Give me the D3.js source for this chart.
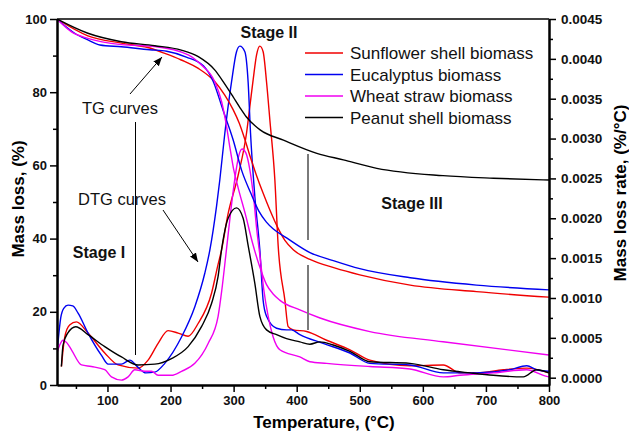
<!DOCTYPE html>
<html><head><meta charset="utf-8">
<script src="https://cdn.jsdelivr.net/npm/d3@7"></script>
<style>body{margin:0;background:#fff}svg{display:block}</style>
</head><body>
<script>
// ---- DATA ----
const seriesNames = ["Sunflower shell biomass","Eucalyptus biomass","Wheat straw biomass","Peanut shell biomass"];
const seriesColors = ["#f00000","#0000f0","#f000f0","#000000"];
const xTicks = [100,200,300,400,500,600,700,800];
const yLeftTicks = [0,20,40,60,80,100];
const yRightTicks = [0,0.0005,0.001,0.0015,0.002,0.0025,0.003,0.0035,0.004,0.0045];

// TG curves [temperature °C, mass %]
const sunflowerTG = [[20,100],[69,95.4],[122,93.4],[164,92.2],[191,90.6],[217,88.8],[244,86.5],[270,82.9],[286,79.2],[299,75.3],[309,71.5],[318,67],[327,62],[336,57.4],[347,52.3],[357.5,47.8],[370,43],[381,39.6],[395,36.9],[421,34.3],[460,32],[500,30.1],[580,27.3],[685,25.5],[800,24.0]];
const eucalyptusTG = [[20,100],[48,96.1],[69,94.3],[88,92.9],[122,92.4],[167,91.6],[194,91.2],[225,89.6],[252,87.2],[267.5,83],[283.4,75],[299.2,67],[313,58.5],[327,52.5],[340,47.5],[352,44.5],[363,42.6],[384,40.2],[421,36.2],[458,34.0],[500,31.8],[580,29.3],[685,27.3],[800,26.0]];
const wheatTG = [[20,100],[43,96.5],[69,94.7],[122,93.0],[175,92.5],[228,90.2],[249,87.4],[270,82.9],[281,77.4],[288,71.5],[294,65],[300,59],[307,54],[319,46.4],[330,38.8],[341,32.5],[352,27.5],[363,24.8],[373,23.2],[405,20.5],[437,18.3],[516,14.6],[632,11.8],[800,8.2]];
const peanutTG = [[20,100],[69,96.1],[122,93.8],[175,92.7],[217,91.5],[244,89.7],[270,86.1],[285,82.5],[299,78.8],[310,75.8],[320,73.3],[342,69.7],[379,66.9],[432,63.3],[474,61.5],[527,59.2],[632,57.2],[712,56.5],[800,56.0]];

// DTG curves [temperature °C, mass loss rate %/°C]
const sunflowerDTG = [[27,0.00014],[32.3,0.00051],[40,0.00066],[50.8,0.0007],[69.2,0.00056],[95.7,0.00031],[116.8,0.00016],[148.5,0.00012],[164.4,0.00022],[180.3,0.00043],[196.1,0.00059],[212,0.00056],[227.9,0.00052],[243.7,0.00068],[265,0.00106],[275,0.00141],[280.8,0.0016],[290.8,0.00204],[307.2,0.00254],[320.5,0.00307],[326,0.00342],[331,0.00374],[336.4,0.00405],[341.6,0.00416],[346.8,0.00409],[352.2,0.00371],[357.5,0.00323],[365.4,0.00248],[370.6,0.00166],[381.3,0.00097],[386.5,0.00064],[394.5,0.0006],[415.7,0.00058],[447.4,0.00047],[484.4,0.00035],[516,0.00022],[579.5,0.00015],[632.4,0.00016],[658.8,0.00006],[685.3,0.00006],[727.5,0.0001],[764.7,0.00012],[800,0.00006]];
const eucalyptusDTG = [[21.2,0.00041],[25.9,0.00075],[30.7,0.00087],[37.5,0.00091],[45,0.0009],[53.4,0.00081],[69.2,0.00056],[90.5,0.00028],[101,0.00017],[122.2,0.00017],[135.4,0.00022],[148.5,0.00013],[160.8,0.00006],[175,0.00007],[190.9,0.00018],[217.4,0.00051],[238.5,0.00089],[254.3,0.00131],[262.3,0.0016],[272.9,0.00215],[278.1,0.00248],[286.1,0.00307],[296.7,0.00371],[304.6,0.00409],[309.9,0.00416],[317.8,0.00409],[323,0.00371],[326.8,0.00307],[333.7,0.00227],[341.6,0.0016],[346.8,0.00097],[352.2,0.00077],[368.1,0.00062],[383.9,0.0006],[391.9,0.0006],[405,0.00054],[442,0.00043],[484.4,0.00031],[516,0.00018],[579.5,0.00016],[632.4,0.00006],[685.3,0.00006],[738.2,0.0001],[764.7,0.00015],[780.5,0.0001],[800,0.00008]];
const wheatDTG = [[20,0.00031],[24.3,0.00041],[29.6,0.00047],[35.4,0.00044],[42.9,0.00035],[58.8,0.00016],[74.6,0.00014],[95.7,0.0001],[106.3,0.00001],[122.2,-0.00003],[132.7,0.00001],[143.3,0.0001],[159.2,0.00008],[169.8,0.00008],[180.3,0.00003],[201.5,0.00003],[217.4,0.00008],[238.5,0.00018],[259.6,0.00043],[275.4,0.00077],[281.3,0.0011],[287.7,0.00154],[295.6,0.0021],[303.5,0.00258],[308.3,0.00279],[313.5,0.00287],[319.4,0.00282],[325.7,0.00261],[332.1,0.00223],[336.8,0.00185],[341.6,0.00154],[347.9,0.0011],[354.3,0.00079],[362.7,0.00051],[373.3,0.00035],[405,0.00026],[420.9,0.0002],[447.4,0.00018],[516,0.00014],[579.5,0.00011],[632.4,0.00001],[658.8,0.00003],[711.7,0.00006],[764.7,0.0001],[791,0.00003],[800,0.00001]];
const peanutDTG = [[27,0.00014],[29.6,0.00041],[37,0.00056],[49.7,0.00064],[69.2,0.00054],[95.7,0.00039],[122.2,0.00026],[148.5,0.00016],[175,0.00017],[201.5,0.00024],[227.9,0.00039],[249.1,0.00064],[265,0.00093],[275.4,0.00127],[280.8,0.0016],[291.3,0.002],[304.6,0.00213],[315.1,0.002],[323,0.00166],[333.7,0.00118],[341.6,0.00077],[352.2,0.0006],[368.1,0.00054],[383.9,0.00049],[405,0.00045],[420.9,0.00042],[436.8,0.00045],[457.9,0.00041],[484.4,0.00033],[516,0.0002],[579.5,0.00018],[632.4,0.0001],[674.7,0.00006],[711.7,0.00003],[759.3,0.00001],[780.5,0.0001],[800,0.00006]];

const tgSeries = [sunflowerTG, eucalyptusTG, wheatTG, peanutTG];
const dtgSeries = [sunflowerDTG, eucalyptusDTG, wheatDTG, peanutDTG];

// ---- CHART ----
const W = 629, H = 432;
const m = {left:57, right:549, top:19, bottom:385};
const font = "'Liberation Sans', Arial, sans-serif";
const svg = d3.select("body").append("svg").attr("width",W).attr("height",H)
  .style("font-family",font);

const x = d3.scaleLinear().domain([20,800]).range([m.left,m.right]);
const yL = d3.scaleLinear().domain([0,100]).range([m.bottom,m.top]);
const yR = d3.scaleLinear().domain([-0.0000916,0.0045]).range([m.bottom,m.top]);

svg.append("clipPath").attr("id","clip").append("rect")
  .attr("x",m.left).attr("y",m.top).attr("width",m.right-m.left).attr("height",m.bottom-m.top);

const plot = svg.append("g").attr("clip-path","url(#clip)");
const lineL = d3.line().x(d=>x(d[0])).y(d=>yL(d[1])).curve(d3.curveMonotoneX);
const lineR = d3.line().x(d=>x(d[0])).y(d=>yR(d[1])).curve(d3.curveMonotoneX);

// gray stage separator line
const gsep = svg.append("g").attr("stroke","#7a7a7a").attr("stroke-width",2);
gsep.append("line").attr("x1",308).attr("x2",308).attr("y1",154).attr("y2",240);
gsep.append("line").attr("x1",308).attr("x2",308).attr("y1",265).attr("y2",330);

// annotation lines
svg.append("defs").append("marker").attr("id","arr").attr("viewBox","0 0 10 10")
  .attr("refX",10).attr("refY",5).attr("markerWidth",9).attr("markerHeight",9)
  .attr("markerUnits","userSpaceOnUse").attr("orient","auto")
  .append("path").attr("d","M0,1 L10,5 L0,9 Z").attr("fill","#000");
svg.append("line").attr("x1",130).attr("y1",94).attr("x2",162).attr("y2",57)
  .attr("stroke","#000").attr("stroke-width",1).attr("marker-end","url(#arr)");
svg.append("line").attr("x1",135.5).attr("y1",122).attr("x2",135.5).attr("y2",355)
  .attr("stroke","#000").attr("stroke-width",1);
svg.append("line").attr("x1",163).attr("y1",210).attr("x2",198).attr("y2",262)
  .attr("stroke","#000").attr("stroke-width",1).attr("marker-end","url(#arr)");

dtgSeries.forEach((s,i)=>{
  plot.append("path").datum(s).attr("d",lineR).attr("fill","none")
    .attr("stroke",seriesColors[i]).attr("stroke-width",1.4);
});
tgSeries.forEach((s,i)=>{
  plot.append("path").datum(s).attr("d",lineL).attr("fill","none")
    .attr("stroke",seriesColors[i]).attr("stroke-width",1.4);
});

// axes
const xMinor = d3.range(50,800,100);
svg.append("g").attr("transform",`translate(0,${m.bottom})`)
  .call(d3.axisBottom(x).tickValues(xTicks).tickSize(7).tickSizeOuter(0).tickPadding(4));
svg.append("g").attr("transform",`translate(0,${m.bottom})`)
  .call(d3.axisBottom(x).tickValues(xMinor).tickSize(4).tickFormat("").tickSizeOuter(0));
svg.append("g").attr("transform",`translate(${m.left},0)`)
  .call(d3.axisLeft(yL).tickValues(yLeftTicks).tickSize(7).tickSizeOuter(0).tickPadding(3));
svg.append("g").attr("transform",`translate(${m.left},0)`)
  .call(d3.axisLeft(yL).tickValues(d3.range(10,100,20)).tickSize(4).tickFormat("").tickSizeOuter(0));
const gr = svg.append("g").attr("transform",`translate(${m.right},0)`)
  .call(d3.axisRight(yR).tickValues(yRightTicks).tickSize(7).tickSizeOuter(0).tickPadding(5)
  .tickFormat(d3.format(".4f")));
svg.append("g").attr("transform",`translate(${m.right},0)`)
  .call(d3.axisRight(yR).tickValues(d3.range(0.00025,0.0045,0.0005)).tickSize(4).tickFormat("").tickSizeOuter(0));

svg.selectAll(".domain").attr("stroke","#000").attr("stroke-width",2);
svg.selectAll(".tick line").attr("stroke","#000").attr("stroke-width",1.5);
svg.selectAll(".tick text").attr("font-family",font).attr("font-weight","bold")
  .attr("font-size","13px").attr("fill","#111");
gr.selectAll(".tick text").attr("font-size","13.5px");
// top frame
svg.append("line").attr("x1",m.left).attr("x2",m.right).attr("y1",m.top).attr("y2",m.top)
  .attr("stroke","#000").attr("stroke-width",1.5);

// axis titles
svg.append("text").attr("x",324).attr("y",428).attr("text-anchor","middle")
  .attr("font-weight","bold").attr("font-size","17px").text("Temperature, (°C)");
svg.append("text").attr("transform","translate(24,199) rotate(-90)").attr("text-anchor","middle")
  .attr("font-weight","bold").attr("font-size","17px").text("Mass loss, (%)");
svg.append("text").attr("transform","translate(626,193) rotate(-90)").attr("text-anchor","middle")
  .attr("font-weight","bold").attr("font-size","17px").text("Mass loss rate, (%/°C)");

// annotations
const ann = [
  {t:"Stage II", x:269, y:38, b:true},
  {t:"TG curves", x:120, y:114, b:false},
  {t:"DTG curves", x:122, y:205, b:false},
  {t:"Stage I", x:99, y:258, b:true},
  {t:"Stage III", x:412, y:209, b:true}
];
ann.forEach(d=>{
  svg.append("text").attr("x",d.x).attr("y",d.y).attr("text-anchor","middle")
    .attr("font-weight",d.b?"bold":"normal").attr("font-size",d.b?"16px":"16.5px")
    .attr("fill","#111").text(d.t);
});

// legend
seriesNames.forEach((n,i)=>{
  const cy = 53 + i*21.5;
  svg.append("line").attr("x1",305).attr("x2",343).attr("y1",cy).attr("y2",cy)
    .attr("stroke",seriesColors[i]).attr("stroke-width",1.4);
  svg.append("text").attr("x",350).attr("y",cy+6).attr("font-size","17px")
    .attr("fill","#111").text(n);
});
</script>
</body></html>
